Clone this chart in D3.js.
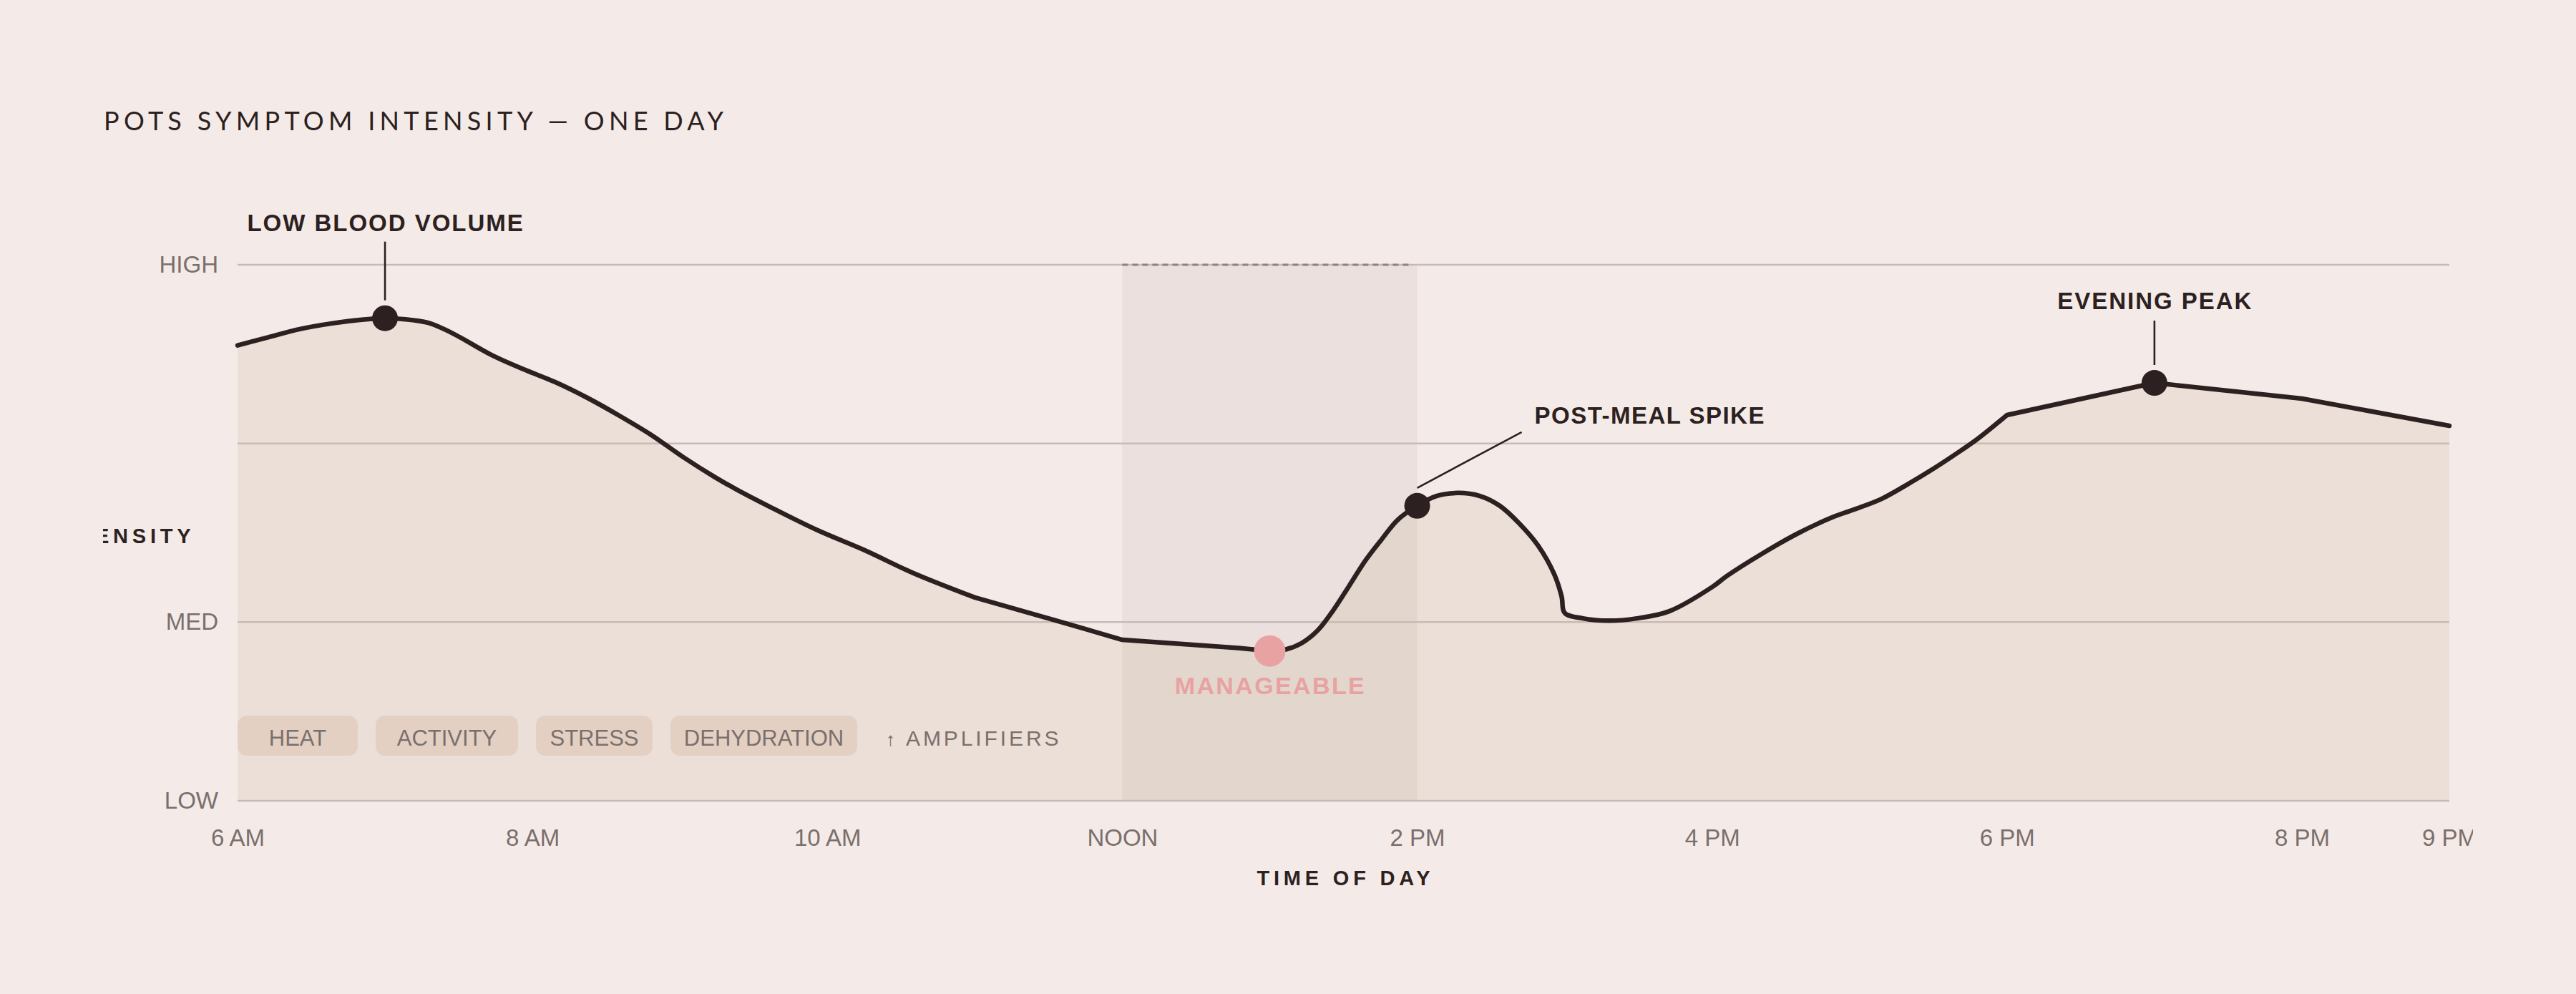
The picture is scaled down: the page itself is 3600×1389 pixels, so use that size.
<!DOCTYPE html>
<html>
<head>
<meta charset="utf-8">
<script src="https://cdn.jsdelivr.net/npm/d3@7"></script>
<style>
  html, body { margin: 0; padding: 0; background: #f4ebe8; }
  body { width: 3600px; height: 1389px; position: relative; overflow: hidden; }
  #chart { position: absolute; left: 144px; top: 0; overflow: hidden; }
</style>
</head>
<body>
<svg id="chart"></svg>
<script>
// ---------------- DATA ----------------
const timeTicks = [6, 8, 10, 12, 14, 16, 18, 20, 21];
const timeTickLabels = ["6 AM", "8 AM", "10 AM", "NOON", "2 PM", "4 PM", "6 PM", "8 PM", "9 PM"];
const levelTicks = [0, 1, 2, 3];
const levelTickLabels = ["LOW", "MED", "", "HIGH"];

const hours = [6.00, 6.207, 6.422, 6.64, 6.857, 7.00, 7.14, 7.29, 7.40, 7.507, 7.723, 7.94, 8.155, 8.373, 8.59, 8.805,
  9.023, 9.24, 9.387, 9.604, 9.929, 10.254, 10.579, 11.00, 11.55, 12.00, 12.786, 13.00, 13.109, 13.216, 13.326,
  13.434, 13.541, 13.651, 13.76, 13.866, 14.00, 14.127, 14.279, 14.429, 14.56, 14.69, 14.82, 14.93, 14.98, 15.00,
  15.123, 15.30, 15.49, 15.71, 16.00, 16.10, 16.343, 16.585, 16.828, 17.00, 17.152, 17.313, 17.475, 17.637, 17.80,
  18.00, 19.00, 20.00, 21.00];
const intensity = [2.549, 2.594, 2.640, 2.672, 2.694, 2.701, 2.695, 2.676, 2.640, 2.595, 2.495, 2.415, 2.343, 2.255, 2.155, 2.048,
  1.923, 1.810, 1.741, 1.648, 1.516, 1.402, 1.276, 1.138, 1.009, 0.901, 0.855, 0.838, 0.847, 0.882, 0.954,
  1.070, 1.206, 1.347, 1.464, 1.571, 1.651, 1.705, 1.723, 1.705, 1.651, 1.554, 1.428, 1.267, 1.142, 1.052,
  1.021, 1.008, 1.021, 1.061, 1.196, 1.258, 1.385, 1.498, 1.591, 1.641, 1.691, 1.765, 1.845, 1.932, 2.025,
  2.159, 2.339, 2.251, 2.099];
// stretches of the day where the trace runs in straight segments
const straightSpans = [[11, 13], [18, 21]];

const amplifiers = ["HEAT", "ACTIVITY", "STRESS", "DEHYDRATION"];
const amplifierCaption = "AMPLIFIERS";
const annotationLabels = ["LOW BLOOD VOLUME", "MANAGEABLE", "POST-MEAL SPIKE", "EVENING PEAK"];
const annotationHours = [7, 13, 14, 19];
const calmWindow = [12, 14];

const titleText = "POTS SYMPTOM INTENSITY — ONE DAY";
const xTitle = "TIME OF DAY";
const yTitle = "INTENSITY";

// ---------------- LAYOUT ----------------
const W = 3312, H = 1389;
const C = { bg: "#f4ebe8", area: "#ecdfd7", band: "rgba(150,128,122,0.095)", grid: "#c9bab5",
  ink: "#2c2120", muted: "#7b6f6c", chip: "#e3d0c3", pink: "#e8a2a2", dash: "#8e8380" };
const FONT = "'Liberation Sans', Arial, sans-serif";

const svg = d3.select("#chart").attr("width", W).attr("height", H);
const x = d3.scaleLinear().domain([6, 21]).range([188, 3279]);
const y = d3.scaleLinear().domain([0, 3]).range([1119, 370]);

const data = hours.map((h, i) => ({ h, v: intensity[i] }));

// build the trace from runs: smooth runs use Catmull-Rom, straight spans use linear
const cuts = [6, ...straightSpans.flat(), 21].filter((d, i, a) => a.indexOf(d) === i).sort((a, b) => a - b);
const runs = [];
for (let i = 0; i < cuts.length - 1; i++) {
  const a = cuts[i], b = cuts[i + 1];
  const straight = straightSpans.some(s => s[0] === a && s[1] === b);
  runs.push({ pts: data.filter(d => d.h >= a && d.h <= b),
    curve: straight ? d3.curveLinear : d3.curveCatmullRom.alpha(0.5) });
}
const traceD = runs.map((r, i) => {
  const d = d3.line().x(p => x(p.h)).y(p => y(p.v)).curve(r.curve)(r.pts);
  return i === 0 ? d : d.replace(/^M[^A-Za-z]*/, "");
}).join("");
const areaD = traceD + `L${x(21)},${y(0)}L${x(6)},${y(0)}Z`;

// title
svg.append("text").attr("x", 1).attr("y", 182)
  .attr("font-family", "Lato, 'Open Sans', sans-serif").attr("font-size", 36)
  .attr("letter-spacing", "0.175em").attr("fill", C.ink).text(titleText);

// area
svg.append("path").attr("d", areaD).attr("fill", C.area);

// calm window band
svg.append("rect")
  .attr("x", x(calmWindow[0])).attr("width", x(calmWindow[1]) - x(calmWindow[0]))
  .attr("y", y(3)).attr("height", y(0) - y(3)).attr("fill", C.band);

// grid
svg.append("g").selectAll("line").data(levelTicks).join("line")
  .attr("x1", x(6)).attr("x2", x(21)).attr("y1", d => y(d)).attr("y2", d => y(d))
  .attr("stroke", C.grid).attr("stroke-width", 2.5);

// dashed top of band
svg.append("line")
  .attr("x1", x(calmWindow[0])).attr("x2", x(calmWindow[1]) - 6)
  .attr("y1", y(3)).attr("y2", y(3))
  .attr("stroke", C.dash).attr("stroke-width", 2.8).attr("stroke-dasharray", "8,6");

// line
svg.append("path").attr("d", traceD)
  .attr("fill", "none").attr("stroke", C.ink).attr("stroke-width", 6.5)
  .attr("stroke-linejoin", "round").attr("stroke-linecap", "round");

// amplifier chips
const chipTop = y(0) - 119, chipH = 56, chipGap = 25;
const chipWidthFor = { "HEAT": 168, "ACTIVITY": 199, "STRESS": 163, "DEHYDRATION": 261 };
let cx = x(6);
const chips = svg.append("g");
amplifiers.forEach(name => {
  const w = chipWidthFor[name];
  chips.append("rect").attr("x", cx).attr("y", chipTop).attr("width", w).attr("height", chipH)
    .attr("rx", 13).attr("fill", C.chip);
  chips.append("text").attr("x", cx + w / 2).attr("y", chipTop + 41.5)
    .attr("text-anchor", "middle").attr("font-family", FONT).attr("font-size", 31)
    .attr("fill", C.muted).text(name);
  cx += w + chipGap;
});
cx -= chipGap;
chips.append("text").attr("x", cx + 40).attr("y", chipTop + 41.5)
  .attr("font-family", FONT).attr("font-size", 26).attr("fill", C.muted).text("↑");
chips.append("text").attr("x", cx + 68).attr("y", chipTop + 41.5)
  .attr("font-family", FONT).attr("font-size", 30).attr("letter-spacing", "0.13em")
  .attr("fill", C.muted).text(amplifierCaption);

// annotations
const valueAt = h => intensity[hours.indexOf(h)];
const ann = annotationHours.map((h, i) => ({ h, v: valueAt(h), label: annotationLabels[i] }));
const g = svg.append("g");
const labelStyle = sel => sel.attr("font-family", FONT).attr("font-weight", "bold")
  .attr("font-size", 33).attr("letter-spacing", "0.06em").attr("fill", C.ink);

[[ann[0], 122, 107], [ann[3], 103, 87]].forEach(([a, lab, lead]) => {
  const px = x(a.h), py = y(a.v);
  g.append("line").attr("x1", px).attr("x2", px).attr("y1", py - lead).attr("y2", py - 25)
    .attr("stroke", C.ink).attr("stroke-width", 2.6);
  g.append("text").attr("x", px + 1).attr("y", py - lab).attr("text-anchor", "middle")
    .call(labelStyle).text(a.label);
});
{
  const a = ann[2], px = x(a.h), py = y(a.v);
  g.append("line").attr("x1", px).attr("y1", py - 25).attr("x2", px + 146).attr("y2", py - 103)
    .attr("stroke", C.ink).attr("stroke-width", 2.6);
  g.append("text").attr("x", px + 164).attr("y", py - 115).call(labelStyle)
    .attr("letter-spacing", "0.045em").text(a.label);
}
[ann[0], ann[2], ann[3]].forEach(a => {
  g.append("circle").attr("cx", x(a.h)).attr("cy", y(a.v)).attr("r", 18).attr("fill", C.ink);
});
{
  const a = ann[1], px = x(a.h), py = y(a.v);
  g.append("circle").attr("cx", px).attr("cy", py).attr("r", 22).attr("fill", C.pink);
  g.append("text").attr("x", px + 1).attr("y", py + 60).attr("text-anchor", "middle")
    .attr("font-family", FONT).attr("font-weight", "bold").attr("font-size", 34)
    .attr("letter-spacing", "0.07em").attr("fill", C.pink).text(a.label);
}

// x axis
const xAxis = svg.append("g").attr("transform", `translate(0,${y(0)})`)
  .call(d3.axisBottom(x).tickValues(timeTicks).tickSize(0).tickPadding(39.6)
    .tickFormat((d, i) => timeTickLabels[i]));
xAxis.select(".domain").remove();
xAxis.selectAll("text").attr("font-family", FONT).attr("font-size", 33).attr("fill", C.muted);

// y axis
const yAxis = svg.append("g").attr("transform", `translate(${x(6)},0)`)
  .call(d3.axisLeft(y).tickValues(levelTicks).tickSize(0).tickPadding(27)
    .tickFormat((d, i) => levelTickLabels[i]));
yAxis.select(".domain").remove();
yAxis.selectAll("text").attr("font-family", FONT).attr("font-size", 33).attr("fill", C.muted);

// axis titles
svg.append("text").attr("x", (x(6) + x(21)) / 2 + 3).attr("y", 1237).attr("text-anchor", "middle")
  .attr("font-family", FONT).attr("font-weight", "bold").attr("font-size", 29)
  .attr("letter-spacing", "0.2em").attr("fill", C.ink).text(xTitle);
svg.append("text").attr("x", 128.5).attr("y", 759).attr("text-anchor", "end")
  .attr("font-family", FONT).attr("font-weight", "bold").attr("font-size", 29)
  .attr("letter-spacing", "0.2em").attr("fill", C.ink).text(yTitle);
</script>
</body>
</html>
